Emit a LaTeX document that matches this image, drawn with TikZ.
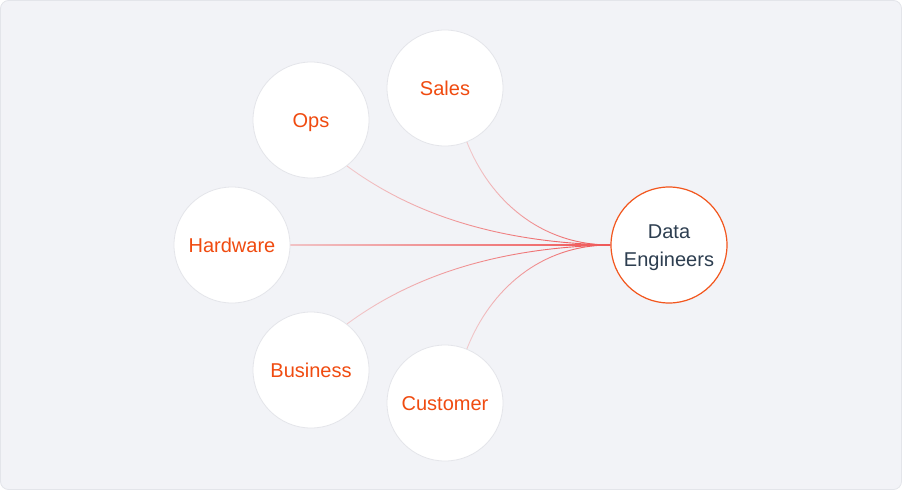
\documentclass[tikz,border=0pt]{standalone}
\usepackage{fontspec}
\setmainfont{Liberation Sans}
\usetikzlibrary{fadings,calc}
\definecolor{bgc}{HTML}{F2F3F7}
\definecolor{bgborder}{HTML}{E3E5EA}
\definecolor{cborder}{HTML}{E4E5EA}
\definecolor{orangetxt}{HTML}{F04B10}
\definecolor{deborder}{HTML}{F2561D}
\definecolor{detxt}{HTML}{2D3E50}
\definecolor{linkc}{HTML}{EF5050}
\tikzfading[name=fadein, left color=transparent!75, right color=transparent!0]
\newcommand{\lowerline}[1]{\raisebox{-3pt}[\height][\depth]{#1}}
\begin{document}
\begin{tikzpicture}[x=1pt,y=-1pt,
  src/.style={circle, minimum size=116pt, inner sep=0pt, draw=cborder, line width=0.8pt, fill=white, text=orangetxt, text height=14.3pt, text depth=0pt, font=\fontsize{20}{24}\selectfont},
  target/.style={circle, minimum size=116pt, inner sep=0pt, draw=deborder, line width=1.2pt, fill=white, text=detxt, align=center, font=\fontsize{20}{28}\selectfont},
  link/.style={draw=linkc, line width=0.9pt, path fading=fadein}
]
\useasboundingbox (0,0) rectangle (902,490);
\draw[fill=bgc, draw=bgborder, line width=0.8pt, rounded corners=8pt] (0.5,0.5) rectangle (901.5,489.5);

\node[src] (sales) at (445,88) {Sales};
\node[src] (ops) at (311,120) {Ops};
\node[src] (hw) at (232,245) {Hardware};
\node[src] (bus) at (311,370) {Business};
\node[src] (cust) at (445,403) {Customer};
\node[target] (de) at (669,245) {\lowerline{Data}\\\lowerline{Engineers}};

\draw[link] (sales.-68) .. controls (490,200) and (540,245) .. (de.west);
\draw[link] (ops.-52) .. controls (400,205) and (480,242) .. (de.west);
\draw[link] (bus.52) .. controls (400,285) and (480,248) .. (de.west);
\draw[link] (cust.68) .. controls (490,290) and (540,245) .. (de.west);
\shade[left color=linkc!30!bgc, right color=linkc!95!bgc] ($(hw.east)+(0,-0.45)$) rectangle ($(de.west)+(0,0.45)$);
\end{tikzpicture}
\end{document}
